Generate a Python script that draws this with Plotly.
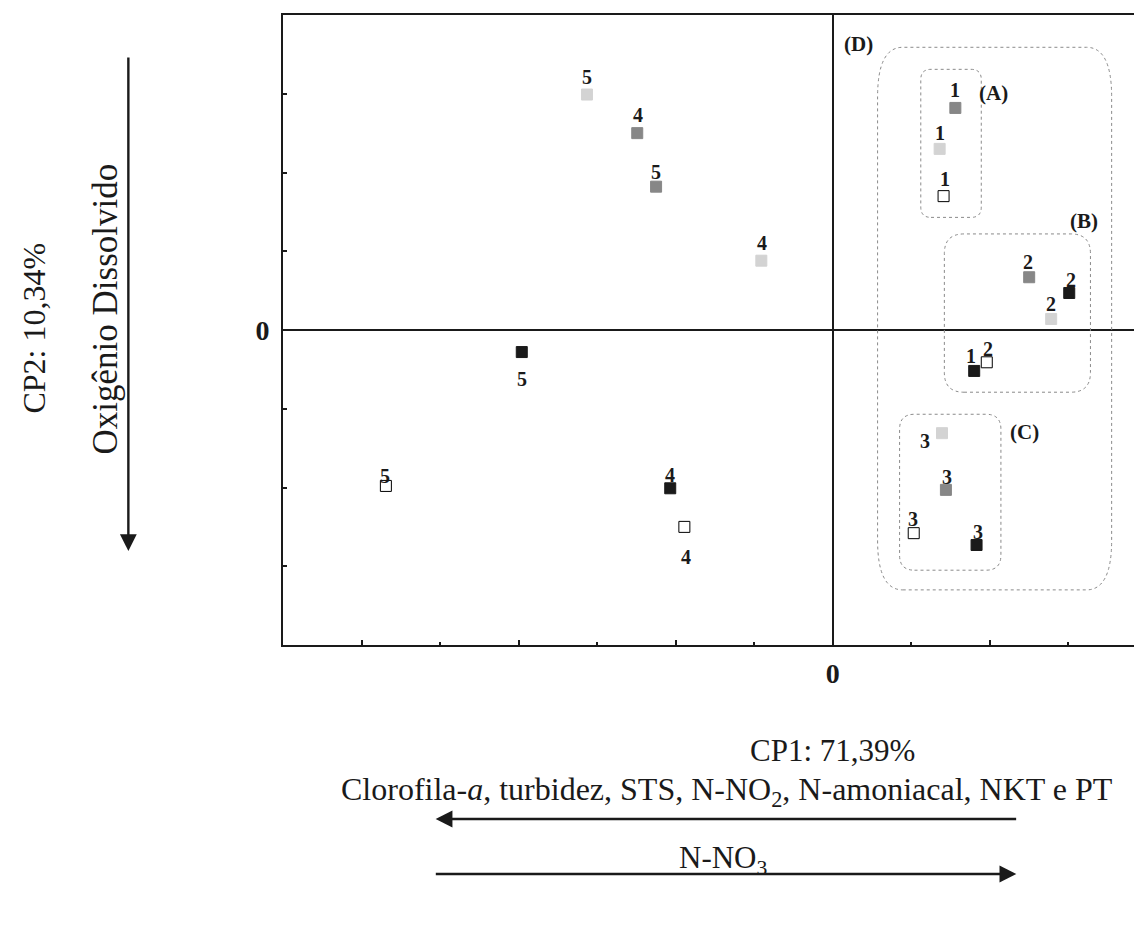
import plotly.graph_objects as go

# ---------------- data ----------------
sites = ["1", "2", "3", "4", "5"]

white_x = [1.41, 1.96, 1.03, -1.89, -5.69]
white_y = [1.70, -0.41, -2.58, -2.50, -1.98]

light_x = [1.36, 2.78, 1.39, -0.91, -3.13]
light_y = [2.30, 0.14, -1.31, 0.88, 2.99]

dark_x = [1.56, 2.50, 1.44, -2.49, -2.25]
dark_y = [2.82, 0.67, -2.03, 2.50, 1.82]

black_x = [1.80, 3.01, 1.83, -2.07, -3.96]
black_y = [-0.52, 0.47, -2.73, -2.01, -0.28]

x_major_ticks = [-6, -4, -2, 0, 2]
x_minor_ticks = [-5, -3, -1, 1, 3]
y_ticks = [-3, -2, -1, 0, 1, 2, 3]

# ---------------- styling ----------------
FONT = "Liberation Serif"
W, H = 1142, 929
ML, MR, MT, MB = 275, 1, 7, 292
PW, PH = W - ML - MR, H - MT - MB


def px2paper(px, py):
    return (px - ML) / PW, (H - MB - py) / PH


series = [
    ("white", white_x, white_y, "white", "black"),
    ("light", light_x, light_y, "#d3d3d3", "#d3d3d3"),
    ("dark", dark_x, dark_y, "#878787", "#878787"),
    ("black", black_x, black_y, "#1a1a1a", "#1a1a1a"),
]

# label pixel offsets (dx, dy) relative to marker, dy positive = downward
label_offsets = {
    "white": [(1, -17), (1, -13), (-1, -14), (2, 30), (-1, -10)],
    "light": [(0, -16), (0, -15), (-17, 8), (1, -18), (0, -18)],
    "dark": [(0, -18), (-1, -15), (1, -13), (1, -18), (0, -15)],
    "black": [(-3, -15), (2, -13), (1, -13), (0, -13), (0, 27)],
}

fig = go.Figure()
annotations = []
for name, xs, ys, fill, line in series:
    fig.add_trace(go.Scatter(
        x=xs, y=ys, mode="markers", name=name,
        marker=dict(symbol="square", size=11, color=fill,
                    line=dict(color=line, width=1)),
        showlegend=False, hoverinfo="skip",
    ))
    for i, (xv, yv) in enumerate(zip(xs, ys)):
        dx, dy = label_offsets[name][i]
        annotations.append(dict(
            x=xv, y=yv, xref="x", yref="y", text="<b>%s</b>" % sites[i],
            showarrow=False, xshift=dx, yshift=-dy,
            font=dict(family=FONT, size=20, color="#1a1a1a"),
        ))


def rrect(x0, y0, x1, y1, rx, ry):
    return (f"M {x0+rx},{y0} L {x1-rx},{y0} Q {x1},{y0} {x1},{y0+ry} "
            f"L {x1},{y1-ry} Q {x1},{y1} {x1-rx},{y1} L {x0+rx},{y1} "
            f"Q {x0},{y1} {x0},{y1-ry} L {x0},{y0+ry} Q {x0},{y0} {x0+rx},{y0} Z")


boxes = [
    (1.12, 1.43, 1.89, 3.31, 0.13, 0.13),   # A
    (1.42, -0.79, 3.28, 1.22, 0.25, 0.25),  # B
    (0.85, -3.05, 2.14, -1.07, 0.19, 0.19), # C
    (0.57, -3.30, 3.55, 3.59, 0.32, 0.63),  # D
]
shapes = []
for b in boxes:
    shapes.append(dict(type="path", xref="x", yref="y", path=rrect(*b),
                       line=dict(color="#8a8a8a", width=1, dash="dot")))

box_labels = [("(A)", 2.04, 3.01), ("(B)", 3.20, 1.38), ("(C)", 2.44, -1.30), ("(D)", 0.33, 3.63)]
for t, xv, yv in box_labels:
    annotations.append(dict(x=xv, y=yv, xref="x", yref="y", text="<b>%s</b>" % t,
                            showarrow=False, font=dict(family=FONT, size=21, color="#1a1a1a")))

# text outside plot
def text_ann(text, px, py, size, angle=0):
    xp, yp = px2paper(px, py)
    return dict(x=xp, y=yp, xref="paper", yref="paper", text=text, showarrow=False,
                textangle=angle, font=dict(family=FONT, size=size, color="#1a1a1a"),
                xanchor="center", yanchor="middle")

annotations.append(text_ann("CP1: 71,39%", 826, 742, 31))
annotations.append(text_ann("Clorofila-<i>a</i>, turbidez, STS, N-NO<sub>2</sub>, N-amoniacal, NKT e PT", 720, 783, 32))
annotations.append(text_ann("N-NO<sub>3</sub>", 716, 852, 31))
annotations.append(text_ann("CP2: 10,34%", 25, 320, 32, -90))
annotations.append(text_ann("Oxigênio Dissolvido", 97, 301, 35, -90))


def arrow(hx, hy, tx, ty):
    xp, yp = px2paper(hx, hy)
    return dict(x=xp, y=yp, xref="paper", yref="paper", ax=tx - hx, ay=ty - hy,
                axref="pixel", ayref="pixel", text="", showarrow=True,
                arrowhead=2, arrowsize=1.4, arrowwidth=2.4, arrowcolor="#1a1a1a")

annotations.append(arrow(428, 811, 1010, 811))
annotations.append(arrow(1010, 866, 428, 866))
annotations.append(arrow(120, 543, 120, 48))

fig.update_layout(
    width=W, height=H,
    margin=dict(l=ML, r=MR, t=MT, b=MB),
    paper_bgcolor="white", plot_bgcolor="white",
    annotations=annotations, shapes=shapes,
    xaxis=dict(
        range=[-7, 4], showgrid=False, zeroline=True, zerolinecolor="#1a1a1a", zerolinewidth=2,
        showline=True, linecolor="#1a1a1a", linewidth=2, mirror=True,
        ticks="inside", ticklen=5, tickwidth=1.5, tickcolor="#1a1a1a",
        tickvals=x_major_ticks, ticktext=["<b>0</b>" if v == 0 else "" for v in x_major_ticks],
        tickfont=dict(family=FONT, size=28, color="#1a1a1a"), ticklabelstandoff=2,
        minor=dict(ticks="inside", tickvals=x_minor_ticks, ticklen=3, tickwidth=1.5, tickcolor="#1a1a1a"),
    ),
    yaxis=dict(
        range=[-4, 4], showgrid=False, zeroline=True, zerolinecolor="#1a1a1a", zerolinewidth=2,
        showline=True, linecolor="#1a1a1a", linewidth=2, mirror=True,
        ticks="inside", ticklen=4, tickwidth=1.5, tickcolor="#1a1a1a",
        tickvals=y_ticks, ticktext=["<b>0</b>" if v == 0 else "" for v in y_ticks],
        tickfont=dict(family=FONT, size=28, color="#1a1a1a"), ticklabelstandoff=6,
    ),
)

fig.write_html("out.html")
